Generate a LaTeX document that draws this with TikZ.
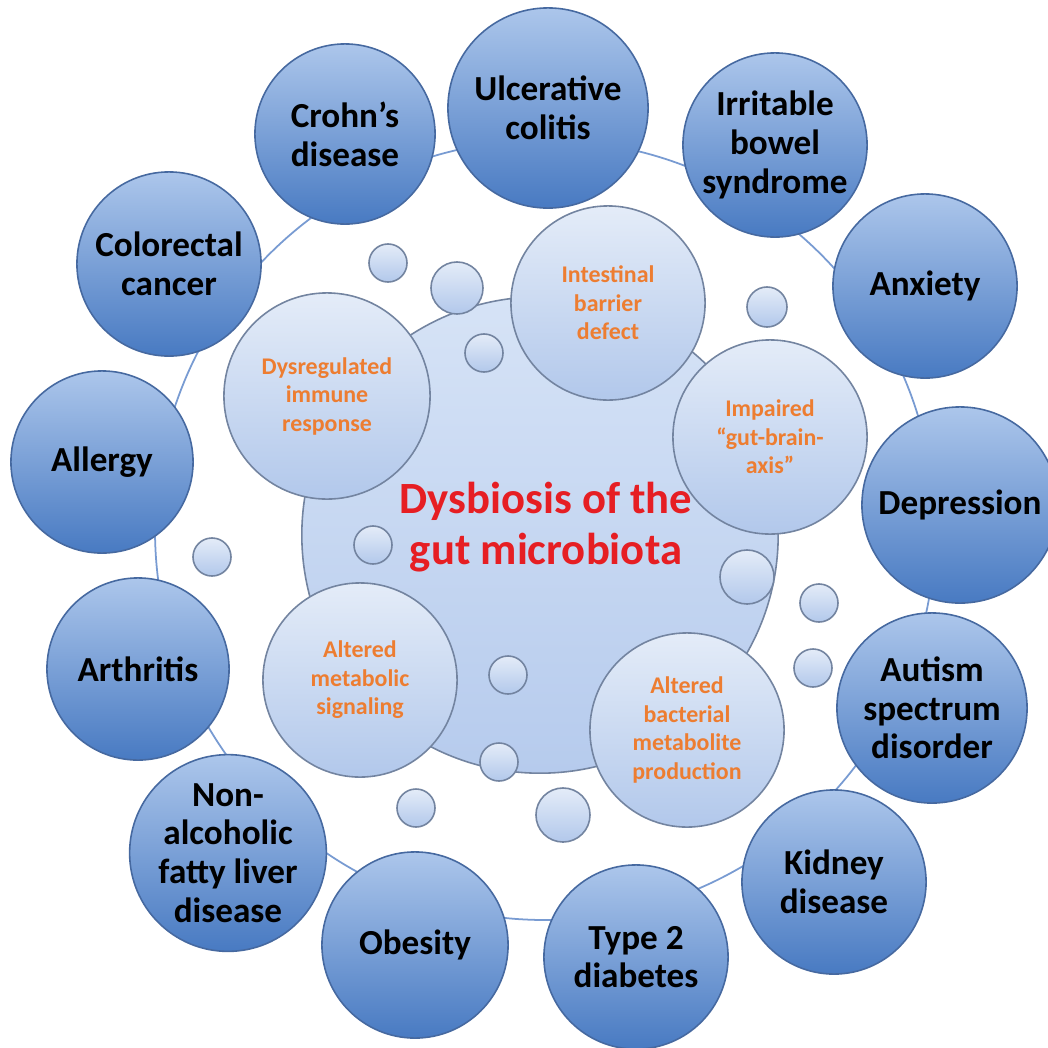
\documentclass[tikz,border=0pt]{standalone}
\usepackage{fontspec}
\setmainfont{Carlito}
\definecolor{otop}{RGB}{172,198,235}
\definecolor{obot}{RGB}{72,122,194}
\definecolor{oline}{RGB}{70,105,160}
\definecolor{itop}{RGB}{228,236,248}
\definecolor{ibot}{RGB}{178,200,235}
\definecolor{iline}{RGB}{115,132,160}
\definecolor{ctop}{RGB}{214,227,246}
\definecolor{cbot}{RGB}{182,203,237}
\definecolor{ringc}{RGB}{120,155,210}
\definecolor{orng}{RGB}{237,125,49}
\definecolor{redt}{RGB}{230,30,35}
\begin{document}
\begin{tikzpicture}[x=0.01cm,y=-0.01cm,
  rad/.style={minimum size=#1*0.02cm},
  outer/.style={circle, inner sep=0pt, draw=oline, line width=0.45pt,
    top color=otop, bottom color=obot, align=center, text=black,
    font=\bfseries\fontsize{10}{11}\selectfont},
  inner/.style={circle, inner sep=0pt, draw=iline, line width=0.45pt,
    top color=itop, bottom color=ibot, align=center, text=orng,
    font=\bfseries\fontsize{6.8}{8.1}\selectfont},
  bubble/.style={circle, inner sep=0pt, draw=iline, line width=0.45pt,
    top color=itop, bottom color=ibot},
  central/.style={circle, inner sep=0pt, draw=iline, line width=0.45pt,
    top color=ctop, bottom color=cbot},
  ctext/.style={align=center, text=redt, inner sep=0pt,
    font=\bfseries\fontsize{12.7}{14.3}\selectfont}
]
\useasboundingbox (0,0) rectangle (1048,1048);
\clip (0,0) rectangle (1048,1048);
\fill[white] (0,0) rectangle (1048,1048);

% ring linking the outer circles
\coordinate (ringcenter) at (545,530);
\draw[ringc, line width=0.5pt] (ringcenter) circle[radius=390];

% outer circles
\node[outer, rad=100] (uc) at (548,108) {Ulcerative\\colitis};
\node[outer, rad=90] (crohn) at (345,134) {Crohn’s\\disease};
\node[outer, rad=92] (ibs) at (775,145) {Irritable\\bowel\\syndrome};
\node[outer, rad=92] (crc) at (169,264) {Colorectal\\cancer};
\node[outer, rad=92] (anx) at (925,286) {Anxiety};
\node[outer, rad=91] (allergy) at (102,462) {Allergy};
\node[outer, rad=98] (dep) at (960,505) {Depression};
\node[outer, rad=91] (arth) at (138,669) {Arthritis};
\node[outer, rad=95] (asd) at (932,708) {Autism\\spectrum\\disorder};
\node[outer, rad=91] (nafld) at (228,853) {Non-\\alcoholic\\fatty liver\\disease};
\node[outer, rad=92] (kidney) at (834,882) {Kidney\\disease};
\node[outer, rad=93] (obesity) at (415,945) {Obesity};
\node[outer, rad=92] (t2d) at (636,957) {Type 2\\diabetes};

% central circle
\node[central, rad=238] (dys) at (540,535) {};
\node[ctext] (dystext) at (546,527) {Dysbiosis of the\\gut microbiota};

% small bubbles
\node[bubble, rad=19] (b1) at (388,263) {};
\node[bubble, rad=26] (b2) at (457,288) {};
\node[bubble, rad=19] (b3) at (484,353) {};
\node[bubble, rad=20] (b4) at (767,307) {};
\node[bubble, rad=19] (b5) at (373,545) {};
\node[bubble, rad=19] (b6) at (212,557) {};
\node[bubble, rad=27] (b7) at (747,577) {};
\node[bubble, rad=19] (b8) at (819,603) {};
\node[bubble, rad=19] (b9) at (813,668) {};
\node[bubble, rad=19] (b10) at (508,675) {};
\node[bubble, rad=19] (b11) at (499,762) {};
\node[bubble, rad=19] (b12) at (416,808) {};
\node[bubble, rad=27] (b13) at (563,815) {};

% inner circles
\node[inner, rad=97] (barrier) at (608,303) {Intestinal\\barrier\\defect};
\node[inner, rad=103] (immune) at (327,396) {Dysregulated\\immune\\response};
\node[inner, rad=97] (gba) at (770,437) {Impaired\\“gut-brain-\\axis”};
\node[inner, rad=97] (metab) at (360,680) {Altered\\metabolic\\signaling};
\node[inner, rad=97] (bact) at (687,730) {Altered\\bacterial\\metabolite\\production};
\end{tikzpicture}
\end{document}
